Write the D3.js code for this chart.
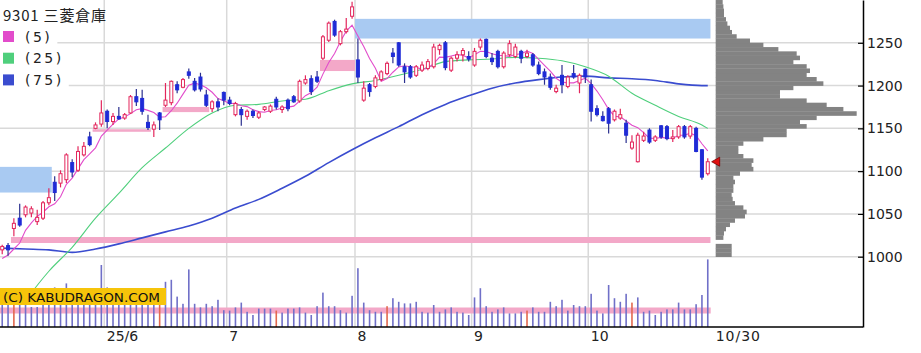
<!DOCTYPE html>
<html>
<head>
<meta charset="utf-8">
<script src="https://cdn.jsdelivr.net/npm/d3@7"></script>
<style>
  body { margin: 0; background: #fff; }
  svg { display: block; }
</style>
</head>
<body>
<div id="chart"></div>
<script>
// ---- data ----
const code = "9301 三菱倉庫";

const dates = [
  "05/07","05/08","05/09","05/12","05/13","05/14","05/15","05/16","05/19","05/20","05/21","05/22","05/23","05/26","05/27","05/28","05/29","05/30",
  "06/02","06/03","06/04","06/05","06/06","06/09","06/10","06/11","06/12","06/13","06/16","06/17","06/18","06/19","06/20","06/23","06/24","06/25","06/26","06/27","06/30",
  "07/01","07/02","07/03","07/04","07/07","07/08","07/09","07/10","07/11","07/14","07/15","07/16","07/17","07/18","07/22","07/23","07/24","07/25","07/28","07/29","07/30","07/31",
  "08/01","08/04","08/05","08/06","08/07","08/08","08/12","08/13","08/14","08/15","08/18","08/19","08/20","08/21","08/22","08/25","08/26","08/27","08/28","08/29",
  "09/01","09/02","09/03","09/04","09/05","09/08","09/09","09/10","09/11","09/12","09/16","09/17","09/18","09/19","09/22","09/24","09/25","09/26","09/29","09/30",
  "10/01","10/02","10/03","10/06","10/07","10/08","10/09","10/10","10/14","10/15","10/16","10/17","10/20","10/21","10/22","10/23","10/24","10/27","10/28","10/29","10/30"
];

// open, high, low, close
const candles = [
  [1008,1014,1003,1012],[1013,1016,1001,1008],[1033,1045,1024,1039],[1045,1062,1035,1037],[1049,1060,1046,1058],
  [1051,1059,1046,1056],[1041,1055,1037,1046],[1045,1065,1043,1063],[1063,1080,1060,1069],[1087,1094,1065,1075],
  [1086,1101,1081,1097],[1090,1121,1086,1119],[1110,1114,1093,1099],[1101,1129,1099,1123],[1119,1134,1117,1129],
  [1140,1146,1129,1131],[1150,1157,1149,1154],[1155,1183,1152,1168],[1170,1172,1150,1158],[1158,1168,1154,1164],
  [1164,1175,1160,1161],[1162,1168,1160,1166],[1168,1189,1167,1187],[1187,1196,1176,1181],[1185,1195,1166,1170],
  [1157,1166,1148,1151],[1149,1158,1140,1154],[1168,1169,1148,1160],[1177,1203,1175,1183],[1180,1206,1177,1205],
  [1201,1205,1191,1195],[1198,1209,1197,1207],[1216,1220,1208,1212],[1205,1209,1193,1195],[1210,1215,1193,1196],
  [1189,1195,1175,1177],[1173,1183,1169,1181],[1181,1185,1170,1175],[1192,1193,1177,1183],[1183,1187,1177,1179],
  [1166,1181,1164,1179],[1172,1175,1153,1166],[1164,1172,1160,1170],[1170,1172,1162,1165],[1163,1170,1161,1168],
  [1172,1176,1170,1175],[1170,1178,1168,1176],[1184,1187,1172,1175],[1172,1177,1168,1175],[1183,1185,1170,1173],
  [1187,1189,1180,1181],[1182,1207,1180,1205],[1203,1212,1201,1207],[1208,1212,1189,1193],[1210,1217,1203,1205],
  [1232,1259,1230,1257],[1253,1275,1251,1273],[1275,1277,1257,1259],[1249,1265,1247,1263],[1263,1279,1261,1266],
  [1281,1298,1278,1292],[1230,1255,1203,1210],[1183,1205,1181,1197],[1201,1203,1187,1193],[1199,1212,1197,1209],
  [1207,1218,1205,1216],[1214,1228,1212,1226],[1238,1244,1226,1234],[1250,1251,1222,1224],[1222,1226,1203,1216],
  [1222,1224,1208,1210],[1212,1224,1210,1222],[1218,1228,1216,1224],[1220,1231,1218,1228],[1222,1249,1220,1245],
  [1242,1249,1236,1247],[1250,1252,1218,1221],[1218,1234,1216,1232],[1232,1240,1228,1236],[1236,1244,1228,1241],
  [1234,1240,1228,1231],[1224,1244,1222,1240],[1245,1255,1242,1253],[1254,1255,1232,1234],[1232,1238,1224,1228],
  [1240,1242,1220,1222],[1222,1240,1220,1238],[1236,1253,1234,1249],[1234,1249,1232,1245],[1240,1242,1226,1232],
  [1234,1242,1232,1238],[1236,1238,1222,1224],[1224,1228,1212,1214],[1216,1220,1201,1210],[1210,1214,1195,1198],
  [1193,1201,1191,1197],[1212,1224,1191,1201],[1199,1212,1197,1210],[1214,1224,1208,1210],[1203,1214,1191,1212],
  [1219,1220,1203,1210],[1201,1207,1158,1170],[1173,1177,1164,1166],[1164,1170,1158,1159],[1173,1175,1144,1156],
  [1160,1172,1158,1170],[1162,1173,1160,1166],[1156,1160,1133,1142],[1127,1142,1125,1134],[1111,1145,1110,1142],
  [1136,1146,1134,1141],[1148,1150,1132,1134],[1136,1142,1134,1140],[1153,1154,1138,1140],[1152,1154,1136,1138],
  [1138,1148,1134,1140],[1140,1154,1138,1152],[1152,1154,1138,1140],[1141,1154,1138,1152],[1150,1152,1122,1123],
  [1125,1126,1090,1093],[1097,1115,1095,1111]
];

// daily volume (thousand shares)
const volumes = [
  620,700,750,600,550,500,500,620,600,990, 750,1090,750,700,620,620,700,1550,990,750,
  700,620,750,700,700,620,550,680,1130,1180, 760,580,1440,580,490,580,520,680,420,410,
  490,610,380,300,460,460,460,410,360,460, 460,490,360,300,520,860,520,520,420,360,
  780,1470,610,420,380,380,520,720,630,590, 590,630,380,360,550,380,440,490,380,360,
  300,740,970,520,380,440,490,340,340,380, 410,490,380,380,630,520,680,410,550,520,
  520,830,410,340,1050,720,630,830,610,740, 380,410,300,380,440,440,610,440,440,570,
  800,1690
];
const avgVolume = 410;

// SQ days (volume bar shown in red)
const sqDates = ["05/09","06/13","07/11","08/08","09/12","10/10"];

// 5-day MA for the first days (window reaches before the chart)
const ma5Head = [998, 1002, 1009, 1016];

// 25-day and 75-day MA, read at these candle positions
const maIdx = [0,4,8,12,16,20,24,28,32,36,40,44,48,52,56,60,64,68,72,76,80,84,88,92,96,100,104,108,112,116,120,121];
const ma25 = [null,949,983,1011,1045,1074,1104,1127,1150,1168,1177,1178,1182,1184,1194,1202,1206,1212,1219,1228,1230,1231,1233,1232,1229,1222,1211,1191,1177,1164,1154,1150];
const ma75 = [1010,1009,1008,1005,1009,1015,1022,1029,1036,1045,1057,1067,1080,1094,1110,1125,1139,1152,1166,1178,1188,1197,1203,1207,1210,1211,1209,1208,1206,1202,1200,1200];

// price gaps (windows): start index, end index, low, high, direction
const gaps = [
  [0, 9, 1075, 1105, "down"],
  [2, 122, 1016, 1023, "up"],
  [16, 26, 1146, 1149, "up"],
  [28, 36, 1169, 1175, "up"],
  [55, 61, 1217, 1230, "up"],
  [61, 122, 1255, 1278, "down"]
];

// volume by price: bin low, volume
const profile = [
  [1000,160],[1005,160],[1010,160],[1015,0],[1020,77],[1025,83],[1030,103],[1035,143],[1040,193],[1045,293],
  [1050,310],[1055,277],[1060,193],[1065,170],[1070,160],[1075,177],[1080,177],[1085,193],[1090,177],[1095,243],
  [1100,377],[1105,360],[1110,377],[1115,277],[1120,227],[1125,227],[1130,277],[1135,477],[1140,710],[1145,710],
  [1150,910],[1155,843],[1160,1010],[1165,1410],[1170,1277],[1175,1110],[1180,910],[1185,643],[1190,643],[1195,777],
  [1200,1077],[1205,1010],[1210,910],[1215,943],[1220,910],[1225,777],[1230,843],[1235,810],[1240,627],[1245,477],
  [1250,343],[1255,210],[1260,163],[1265,143],[1270,117],[1275,103],[1280,83],[1285,83],[1290,77],[1295,70]
];
const binSize = 5;

const priceTicks = [1000, 1050, 1100, 1150, 1200, 1250];
const tickLabels = ["25/6", "7", "8", "9", "10"];
const legendLabels = ["(5)", "(25)", "(75)"];
const copyright = "(C) KABUDRAGON.COM";

// ---- layout ----
const W = 921, H = 353;
const plotBottom = 327, axisX = 863;
const n = dates.length;
const step = 5.831;

const xIdx = d3.scaleLinear().domain([0, n]).range([-0.7, -0.7 + n * step]);
const xC = i => xIdx(i + 0.5);
const xEnd = xIdx(n);

const y = d3.scaleLinear().domain([1000, 1250]).range([256.7, 42.8]);
const yAxisScale = y.copy().domain([y.invert(plotBottom), y.invert(0)]).range([plotBottom, 0]);
const vy = d3.scaleLinear().domain([0, 2000]).range([plotBottom, plotBottom - 80]);
const px = d3.scaleLinear().domain([0, 1500]).range([0, 150]);

const red = "#e3265c", blue = "#1f2bd6", blueWick = "#2a2f8f";
const maColors = ["#e24ccb", "#4fcf7c", "#3a4ccf"];

const svg = d3.select("#chart").append("svg")
  .attr("width", W).attr("height", H)
  .style("font-family", "'DejaVu Sans', sans-serif");

svg.append("defs").append("clipPath").attr("id", "plot")
  .append("rect").attr("x", 0).attr("y", 0).attr("width", xEnd).attr("height", plotBottom);

// gridlines
svg.append("g").selectAll("line").data(priceTicks).join("line")
  .attr("x1", 0).attr("x2", axisX)
  .attr("y1", d => y(d)).attr("y2", d => y(d))
  .attr("stroke", "#d9d9d9").attr("stroke-width", 1.5);

const monthStarts = d3.range(1, n).filter(i => dates[i].slice(0, 2) !== dates[i - 1].slice(0, 2));

svg.append("g").selectAll("line").data(monthStarts).join("line")
  .attr("x1", d => xIdx(d)).attr("x2", d => xIdx(d))
  .attr("y1", 0).attr("y2", plotBottom)
  .attr("stroke", "#d9d9d9").attr("stroke-width", 1.5);

// gap boxes
svg.append("g").attr("clip-path", "url(#plot)")
  .selectAll("rect").data(gaps).join("rect")
  .attr("x", d => Math.max(0, xIdx(d[0])))
  .attr("width", d => xIdx(d[1]) - Math.max(0, xIdx(d[0])))
  .attr("y", d => y(d[3]))
  .attr("height", d => y(d[2]) - y(d[3]))
  .attr("fill", d => d[4] === "up" ? "#f3a8c8" : "#a9caf2");

// volume
svg.append("line")
  .attr("x1", 0).attr("x2", xEnd)
  .attr("y1", vy(avgVolume)).attr("y2", vy(avgVolume))
  .attr("stroke", "#f3a8c8").attr("stroke-width", 6);

svg.append("g").selectAll("rect").data(volumes).join("rect")
  .attr("x", (d, i) => xC(i) - 0.8)
  .attr("width", 1.6)
  .attr("y", d => vy(d))
  .attr("height", d => plotBottom - vy(d))
  .attr("fill", (d, i) => sqDates.includes(dates[i]) ? "#e2684f" : "#7070c8");

// moving averages
const closes = candles.map(c => c[3]);
const ma5 = closes.map((c, i) => i < ma5Head.length ? ma5Head[i] : d3.mean(closes.slice(i - 4, i + 1)));

const maG = svg.append("g").attr("clip-path", "url(#plot)").attr("fill", "none");
const maLine = d3.line().defined(d => d[1] != null).x(d => xC(d[0])).y(d => y(d[1])).curve(d3.curveMonotoneX);

maG.append("path")
  .datum(maIdx.map((k, j) => [k, ma75[j]]))
  .attr("stroke", maColors[2]).attr("stroke-width", 1.6)
  .attr("d", maLine);

maG.append("path")
  .datum(maIdx.map((k, j) => [k, ma25[j]]).filter(d => d[1] != null))
  .attr("stroke", maColors[1]).attr("stroke-width", 1.1)
  .attr("d", maLine);

maG.append("path")
  .datum(ma5)
  .attr("stroke", maColors[0]).attr("stroke-width", 1.1)
  .attr("d", d3.line().x((d, i) => xC(i)).y(d => y(d)));

// candles
const cg = svg.append("g").attr("clip-path", "url(#plot)");
const up = d => d[3] >= d[0];

cg.selectAll("line").data(candles).join("line")
  .attr("x1", (d, i) => xC(i)).attr("x2", (d, i) => xC(i))
  .attr("y1", d => y(d[1])).attr("y2", d => y(d[2]))
  .attr("stroke", d => up(d) ? red : blueWick).attr("stroke-width", 1.2);

cg.selectAll("rect").data(candles).join("rect")
  .attr("x", (d, i) => xC(i) - 1.5)
  .attr("width", 3)
  .attr("y", d => y(Math.max(d[0], d[3])))
  .attr("height", d => Math.max(1, y(Math.min(d[0], d[3])) - y(Math.max(d[0], d[3]))))
  .attr("fill", d => up(d) ? "#fff" : blue)
  .attr("stroke", d => up(d) ? red : blue)
  .attr("stroke-width", 1);

// volume by price
const profX = xEnd + 5;
svg.append("g").selectAll("rect").data(profile.filter(d => d[1] > 0)).join("rect")
  .attr("x", profX)
  .attr("y", d => Math.max(0, y(d[0] + binSize)))
  .attr("height", d => y(d[0]) - Math.max(0, y(d[0] + binSize)) + 0.3)
  .attr("width", d => px(d[1]))
  .attr("fill", "#838383");

// last price marker
const lastY = y(closes[n - 1]);
svg.append("path")
  .attr("d", `M${xEnd + 1},${lastY} L${xEnd + 9},${lastY - 4.5} L${xEnd + 9},${lastY + 4.5} Z`)
  .attr("fill", "#e01010").attr("stroke", "#7a0000").attr("stroke-width", 0.8);

// legend
svg.append("text")
  .attr("x", 3).attr("y", 20.5)
  .attr("textLength", 103).attr("lengthAdjust", "spacing")
  .style("font-family", "'Noto Sans CJK JP', sans-serif")
  .style("font-size", "15px").attr("fill", "#222")
  .text(code);

legendLabels.forEach((lab, k) => {
  const ly = 31 + k * 21.7;
  const bg = svg.append("rect").attr("x", 0).attr("y", ly - 4).attr("height", 19).attr("fill", "#fff");
  svg.append("rect").attr("x", 3).attr("y", ly).attr("width", 11).attr("height", 11).attr("fill", maColors[k]);
  const t = svg.append("text")
    .attr("x", 25).attr("y", ly + 10.5)
    .style("font-size", "14px").style("letter-spacing", "2.5px").attr("fill", "#222")
    .text(lab);
  bg.attr("width", 25 + t.node().getComputedTextLength() + 5);
});

// copyright label
svg.append("rect").attr("x", 0).attr("y", 288).attr("width", 166).attr("height", 17).attr("fill", "#f6c40a");
svg.append("text")
  .attr("x", 3).attr("y", 302)
  .attr("textLength", 157).attr("lengthAdjust", "spacingAndGlyphs")
  .style("font-size", "13px").attr("fill", "#111")
  .text(copyright);

// right axis
const axR = svg.append("g")
  .attr("transform", `translate(${axisX},0)`)
  .call(d3.axisRight(yAxisScale).tickValues(priceTicks).tickFormat(d3.format("d"))
    .tickSize(-5).tickSizeOuter(0).tickPadding(4));
axR.select(".domain").attr("stroke", "#000").attr("stroke-width", 1.5);
axR.selectAll(".tick line").attr("stroke", "#000").attr("stroke-width", 1.2);
axR.selectAll(".tick text")
  .style("font-family", "'DejaVu Sans', sans-serif")
  .style("font-size", "14px").attr("fill", "#222");

// bottom axis
svg.append("line")
  .attr("x1", 0).attr("x2", axisX)
  .attr("y1", plotBottom).attr("y2", plotBottom)
  .attr("stroke", "#000").attr("stroke-width", 1.5);

svg.append("g").selectAll("text").data(monthStarts).join("text")
  .attr("x", d => xIdx(d) + 2.5)
  .attr("y", 341)
  .style("font-size", "14px").attr("fill", "#222")
  .text((d, k) => tickLabels[k]);

const last = dates[n - 1].split("/").map(Number);
svg.append("text")
  .attr("x", xEnd + 5).attr("y", 341)
  .style("font-size", "14px").style("letter-spacing", "1px").attr("fill", "#222")
  .text(`${last[0]}/${last[1]}`);
</script>
</body>
</html>
